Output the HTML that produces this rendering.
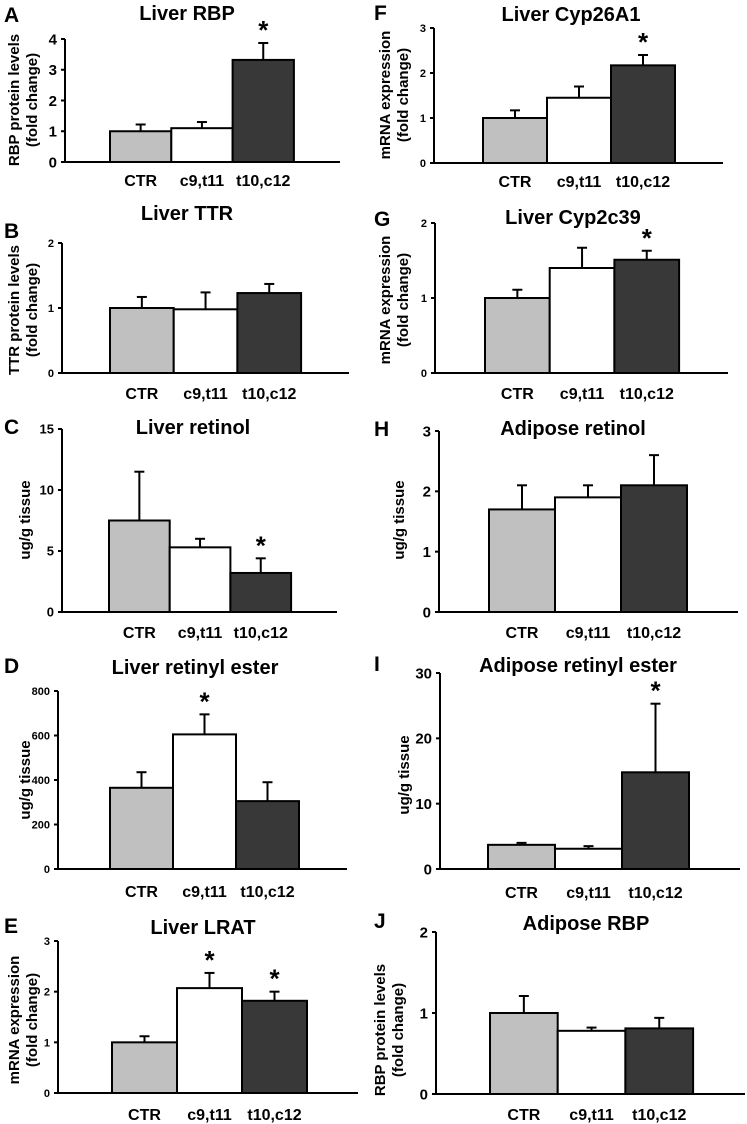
<!DOCTYPE html>
<html><head><meta charset="utf-8"><style>
html,body{margin:0;padding:0;background:#fff;}
svg{display:block;font-family:"Liberation Sans",Arial,sans-serif;font-weight:bold;}
</style></head><body>
<svg id="fig" width="747" height="1124" viewBox="0 0 747 1124" xmlns="http://www.w3.org/2000/svg"></svg>
<script>
const categories = ["CTR","c9,t11","t10,c12"];
const valsA=[1.0,1.1,3.32], errA=[0.22,0.2,0.55], starA=[0,0,1];
const valsB=[1.0,0.98,1.23], errB=[0.17,0.26,0.14], starB=[0,0,0];
const valsC=[7.5,5.3,3.2], errC=[4.0,0.7,1.2], starC=[0,0,1];
const valsD=[365,605,305], errD=[70,90,85], starD=[0,1,0];
const valsE=[1.0,2.07,1.82], errE=[0.12,0.3,0.18], starE=[0,1,1];
const valsF=[1.0,1.45,2.17], errF=[0.17,0.25,0.23], starF=[0,0,1];
const valsG=[1.0,1.4,1.51], errG=[0.11,0.27,0.12], starG=[0,0,1];
const valsH=[1.7,1.9,2.1], errH=[0.4,0.2,0.5], starH=[0,0,0];
const valsI=[3.7,3.1,14.8], errI=[0.3,0.4,10.5], starI=[0,0,1];
const valsJ=[1.0,0.78,0.81], errJ=[0.21,0.04,0.13], starJ=[0,0,0];
const ticksA=[0,1,2,3,4], ticksB=[0,1,2], ticksC=[0,5,10,15], ticksD=[0,200,400,600,800], ticksE=[0,1,2,3];
const ticksF=[0,1,2,3], ticksG=[0,1,2], ticksH=[0,1,2,3], ticksI=[0,10,20,30], ticksJ=[0,1,2];
const fills=["#c0c0c0","#ffffff","#383838"];
const NS="http://www.w3.org/2000/svg";
const svg=document.getElementById('fig');
function mk(tag,attrs,parent,text){const e=document.createElementNS(NS,tag);for(const k in attrs)e.setAttribute(k,attrs[k]);if(text!==undefined)e.textContent=text;(parent||svg).appendChild(e);return e;}
const panels=[
 {id:'a',L:'A',lx:4,ly:22,title:'Liver RBP',tx:187,ty:20,ax:65,y0:162,yt:39,max:4,ticks:ticksA,bx:110,bw:61.3,right:340,cy:186,tf:15,yl:['RBP protein levels','(fold change)'],ylx:19,yly:100,v:valsA,e:errA,s:starA},
 {id:'b',L:'B',lx:4,ly:238,title:'Liver TTR',tx:187,ty:220,ax:62,y0:373,yt:243,max:2,ticks:ticksB,bx:110,bw:63.7,right:349,cy:399,tf:11,yl:['TTR protein levels','(fold change)'],ylx:19,yly:310,v:valsB,e:errB,s:starB},
 {id:'c',L:'C',lx:4,ly:434,title:'Liver retinol',tx:193,ty:434,ax:62,y0:612,yt:429,max:15,ticks:ticksC,bx:109,bw:60.7,right:337,cy:638,tf:13,yl:['ug/g tissue'],ylx:30,yly:520,v:valsC,e:errC,s:starC},
 {id:'d',L:'D',lx:4,ly:673,title:'Liver retinyl ester',tx:195,ty:674,ax:58,y0:869,yt:691,max:800,ticks:ticksD,bx:110,bw:63,right:347,cy:897,tf:11,yl:['ug/g tissue'],ylx:30,yly:780,v:valsD,e:errD,s:starD},
 {id:'e',L:'E',lx:4,ly:933,title:'Liver LRAT',tx:203,ty:934,ax:58,y0:1093,yt:941,max:3,ticks:ticksE,bx:112,bw:65,right:358,cy:1120,tf:11,yl:['mRNA expression','(fold change)'],ylx:19,yly:1020,v:valsE,e:errE,s:starE},
 {id:'f',L:'F',lx:374,ly:20,title:'Liver Cyp26A1',tx:571,ty:21,ax:434,y0:163,yt:28,max:3,ticks:ticksF,bx:483,bw:64,right:723,cy:187,tf:11,yl:['mRNA expression','(fold change)'],ylx:390,yly:95,v:valsF,e:errF,s:starF},
 {id:'g',L:'G',lx:374,ly:226,title:'Liver Cyp2c39',tx:573,ty:224,ax:435,y0:373,yt:223,max:2,ticks:ticksG,bx:485,bw:64.7,right:728,cy:399,tf:11,yl:['mRNA expression','(fold change)'],ylx:390,yly:300,v:valsG,e:errG,s:starG},
 {id:'h',L:'H',lx:374,ly:436,title:'Adipose retinol',tx:573,ty:435,ax:439,y0:612,yt:431,max:3,ticks:ticksH,bx:489,bw:66,right:738,cy:638,tf:15,yl:['ug/g tissue'],ylx:404,yly:520,v:valsH,e:errH,s:starH},
 {id:'i',L:'I',lx:374,ly:671,title:'Adipose retinyl ester',tx:578,ty:672,ax:440,y0:869,yt:673,max:30,ticks:ticksI,bx:488,bw:67,right:740,cy:898,tf:15,yl:['ug/g tissue'],ylx:409,yly:775,v:valsI,e:errI,s:starI},
 {id:'j',L:'J',lx:374,ly:928,title:'Adipose RBP',tx:586,ty:930,ax:436,y0:1094,yt:932,max:2,ticks:ticksJ,bx:490,bw:67.7,right:745,cy:1120,tf:15,yl:['RBP protein levels','(fold change)'],ylx:385,yly:1030,v:valsJ,e:errJ,s:starJ}
];
panels.forEach(p=>{
 const g=mk('g',{});
 
 
 const yS=v=>p.y0-(v/p.max)*(p.y0-p.yt);
 const lt=mk('text',{x:p.lx,y:p.ly,'font-size':21},g,p.L);
 
 
 const tt=mk('text',{x:p.tx,y:p.ty,'font-size':20,'text-anchor':'middle'},g,p.title);
 
 
 const yl=mk('text',{transform:`translate(${p.ylx},${p.yly}) rotate(-90)`,'font-size':15,'text-anchor':'middle'},g);
 
 
 p.yl.forEach((l,i)=>mk('tspan',{x:0,dy:i?18:0},yl,l));
 p.v.forEach((v,i)=>{
  const x0=p.bx+i*p.bw, top=yS(v), et=yS(v+p.e[i]), cx=x0+p.bw/2;
  const eb=mk('line',{x1:cx,x2:cx,y1:top,y2:et,stroke:'#000','stroke-width':2},g);
  
  
  mk('line',{x1:cx-5,x2:cx+5,y1:et,y2:et,stroke:'#000','stroke-width':2},g);
  const r=mk('rect',{x:x0,y:top,width:p.bw,height:p.y0-top,fill:fills[i],stroke:'#000','stroke-width':2},g);
  
  
  if(p.s[i]){const st=mk('text',{x:cx,y:et-4,'font-size':26,'text-anchor':'middle'},g,'*');
   
   }
  const cl=mk('text',{x:cx,y:p.cy,'font-size':16,'text-anchor':'middle'},g,categories[i]);
  
  
 });
 mk('line',{x1:p.ax,x2:p.ax,y1:p.yt,y2:p.y0,stroke:'#000','stroke-width':2},g);
 const xa=mk('line',{x1:p.ax,x2:p.right,y1:p.y0,y2:p.y0,stroke:'#000','stroke-width':2},g);
 
 
 p.ticks.forEach(t=>{
  const y=yS(t);
  mk('line',{x1:p.ax-4,x2:p.ax,y1:y,y2:y,stroke:'#000','stroke-width':2},g);
  const tl=mk('text',{x:p.ax-8,y:y+p.tf*0.36,'font-size':p.tf,'text-anchor':'end'},g,String(t));
  
  
 });
});
</script>
</body></html>
